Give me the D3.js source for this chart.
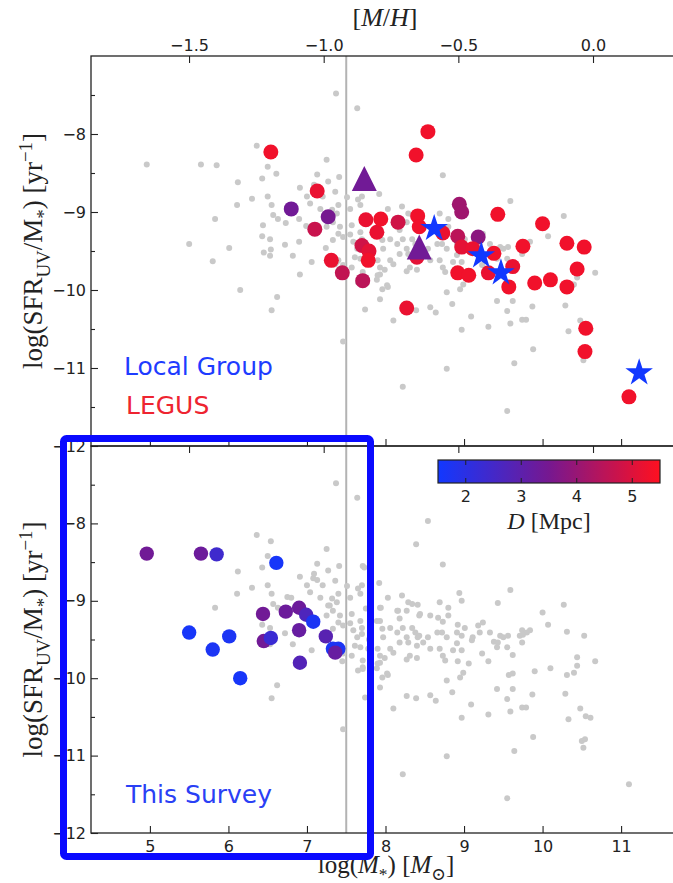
<!DOCTYPE html>
<html>
<head>
<meta charset="utf-8">
<script src="https://cdn.jsdelivr.net/npm/d3@7"></script>
<style>
  body { margin: 0; background: #fff; }
  svg { display: block; }
</style>
</head>
<body>
<svg id="chart" width="673" height="883"></svg>
<script>
// ---- data: [log M*, log sSFR_UV] (and distance D in Mpc where coloured) ----

// comparison galaxies shown in grey in both panels
const cloud = [
  [7.37,-7.48],[7.64,-7.67],[6.36,-8.15],[7.25,-8.33],[6.50,-8.42],[8.73,-8.53],
  [6.12,-8.62],[6.11,-8.91],[5.83,-9.09],[6.30,-8.83],[6.43,-8.57],[6.50,-8.80],
  [6.75,-8.95],[6.57,-9.04],[6.63,-9.09],[6.53,-9.35],[6.72,-9.42],[6.82,-9.56],
  [6.62,-10.09],[6.55,-10.26],[6.43,-9.31],[6.53,-9.56],[6.55,-8.91],[6.91,-8.69],
  [7.51,-8.81],
  [7.13,-8.52],[7.41,-8.55],[7.71,-8.55],[7.09,-8.65],[7.27,-8.61],[7.36,-8.74],
  [7.08,-8.71],[7.20,-8.80],[7.00,-8.80],[7.04,-8.89],[7.17,-8.96],[7.32,-8.97],
  [7.40,-8.91],[7.38,-9.02],[7.29,-9.06],[7.33,-9.13],[7.25,-9.19],[7.42,-9.19],
  [7.40,-9.28],[7.46,-9.32],[7.33,-9.36],[7.57,-9.17],[7.55,-9.29],[7.59,-9.38],
  [7.64,-9.47],[7.68,-9.26],[7.70,-9.35],[7.65,-8.84],[7.68,-8.91],[7.70,-8.80],
  [7.55,-8.96],[7.46,-9.68],[7.38,-9.64],[7.06,-9.64],[7.61,-9.58],[7.68,-9.60],
  [7.57,-9.71],[7.71,-9.86],[7.71,-9.77],[7.65,-9.90],
  [7.92,-8.77],[7.93,-9.09],[7.93,-9.26],[7.96,-9.36],[7.97,-9.47],[7.90,-9.62],
  [7.93,-9.71],[7.93,-9.80],[7.89,-9.87],[7.96,-9.99],[8.03,-9.96],[7.93,-10.12],
  [8.03,-8.96],[8.21,-8.93],[8.29,-9.02],[8.15,-9.13],[8.18,-9.23],[8.27,-9.13],
  [8.34,-9.04],[8.06,-9.35],[8.15,-9.41],[8.22,-9.35],[8.34,-9.35],[8.38,-9.41],
  [8.27,-9.47],[8.18,-9.54],[8.29,-9.54],[8.41,-9.47],[8.48,-9.54],[8.06,-9.62],
  [8.10,-9.67],[7.99,-9.74],[8.31,-9.71],[8.27,-9.76],[8.40,-9.74],
  [8.57,-9.19],[8.54,-9.47],[8.44,-9.17],[8.67,-9.22],[8.69,-9.02],[8.80,-9.09],
  [8.80,-9.19],[8.72,-9.41],[8.78,-9.47],[8.66,-9.41],[8.57,-9.62],[8.69,-9.62],
  [8.73,-9.71],[8.76,-9.77],[8.78,-10.03],
  [8.91,-9.41],[9.01,-9.35],[8.91,-9.55],[8.86,-9.64],[8.97,-9.64],[8.99,-9.93],
  [8.95,-9.99],[9.10,-9.51],[9.24,-9.28],[9.20,-9.41],[9.23,-9.68],[9.33,-9.41],
  [9.42,-9.60],[9.43,-9.54],[9.46,-9.45],[9.59,-8.86],[9.50,-9.47],[9.56,-9.45],
  [9.55,-9.60],[9.62,-9.94],[9.71,-9.45],[9.74,-9.38],[9.80,-9.41],[9.84,-9.38],
  [9.74,-9.54],[9.62,-10.14],[9.42,-10.14],[8.85,-10.18],
  [10.27,-9.05],[10.07,-9.31],[10.67,-9.78],[10.44,-9.84],[10.40,-9.93],[10.29,-10.20],
  [8.57,-10.22],[8.64,-10.29],[8.39,-10.26],[9.09,-10.34],[8.97,-10.51],[9.31,-10.47],
  [9.55,-10.27],[9.59,-10.43],[9.74,-10.38],[9.79,-10.38],[9.88,-10.76],[9.64,-10.94],
  [8.78,-11.01],[9.55,-11.55],[10.48,-10.39],[10.33,-10.53],[10.61,-10.51],[10.50,-10.81],
  [10.52,-10.90],[9.87,-10.21],[7.46,-10.66],[8.22,-11.24],[8.10,-10.39],[7.74,-10.25],
  [8.02,-9.94],[7.90,-9.81]
];

// this survey: [log M*, log sSFR, D]
const survey = [
  [4.96,-8.39,3.4],[5.65,-8.39,3.3],[5.85,-8.40,2.4],[6.61,-8.51,1.6],
  [5.50,-9.41,1.6],[6.01,-9.46,1.7],[5.80,-9.63,1.7],[6.15,-10.00,1.6],
  [6.44,-9.17,3.4],[6.45,-9.52,3.4],[6.54,-9.48,2.3],[6.73,-9.14,3.3],
  [6.90,-9.09,3.3],[6.99,-9.18,2.7],[7.08,-9.27,1.7],[6.90,-9.38,3.2],
  [6.91,-9.80,2.8],[7.24,-9.46,2.9],[7.33,-9.62,1.7],[7.40,-9.62,1.7],
  [7.36,-9.67,3.2]
];

// LEGUS galaxies drawn as circles: [log M*, log sSFR, D]
const legus = [
  [6.54,-8.23,5.3],[6.80,-8.96,3.4],[7.13,-8.73,5.2],[7.27,-9.06,3.5],[7.10,-9.22,4.7],
  [7.31,-9.62,5.2],[7.45,-9.78,4.6],[7.75,-9.10,5.2],[7.71,-9.88,4.5],[7.70,-9.43,4.8],
  [7.79,-9.50,5.1],[7.78,-9.62,5.3],[7.89,-9.26,5.2],[7.94,-9.09,5.3],[8.16,-9.13,4.8],
  [8.41,-9.05,5.3],[8.43,-9.19,5.3],[8.40,-9.58,5.1],[8.27,-10.23,5.2],[8.54,-7.97,5.3],
  [8.39,-8.27,5.3],[8.94,-8.90,4.1],[8.97,-9.00,4.1],[8.73,-9.27,5.2],[8.92,-9.31,4.5],
  [9.18,-9.32,3.8],[8.97,-9.45,5.1],[9.11,-9.47,5.2],[9.38,-9.53,5.3],[9.62,-9.70,5.2],
  [8.92,-9.78,5.3],[9.06,-9.81,5.3],[9.31,-9.78,5.2],[9.57,-9.96,5.3],[9.43,-9.03,5.3],
  [9.75,-9.44,5.3],[10.00,-9.15,5.3],[9.90,-9.91,5.3],[10.10,-9.87,5.3],[10.31,-9.40,5.3],
  [10.53,-9.45,5.3],[10.44,-9.73,5.3],[10.31,-9.96,5.3],[10.55,-10.49,5.3],[10.54,-10.79,5.3],
  [11.10,-11.37,5.3]
];

// LEGUS galaxies drawn as triangles
const legusTri = [[7.73,-8.57,3.4],[8.43,-9.45,3.4]];

// Local Group galaxies (stars): SMC, LMC, M33, M31
const localGroup = [[8.62,-9.21,0.06],[9.22,-9.56,0.05],[9.47,-9.78,0.84],[11.23,-11.06,0.78]];

// axis ticks
const massTicks = [5, 6, 7, 8, 9, 10, 11];
const ssfrTicks = [-8, -9, -10, -11, -12];
const ssfrMinor = [-7.5, -8.5, -9.5, -10.5, -11.5];
const metalTicks = [-1.5, -1.0, -0.5, 0.0];
const distTicks = [2, 3, 4, 5];
const massCut = 7.5;

// ---- layout ----
const svg = d3.select("#chart");
const sans = "'DejaVu Sans', sans-serif";
const serif = "'Liberation Serif', 'DejaVu Serif', serif";
const ink = "#222";

const x = d3.scaleLinear().domain([4.25, 11.75]).range([91, 680]);
const mh = d3.scaleLinear().domain([-1.864, 0.323]).range([91, 680]);
const panels = [
  { key: "top", y: d3.scaleLinear().domain([-12, -7]).range([446, 56]) },
  { key: "bot", y: d3.scaleLinear().domain([-12, -7]).range([833, 446]) }
];
// distance colour map: blue -> purple -> red
const color = d3.scaleLinear().domain([1.5, 3.5, 5.5])
  .range(["#1238ff", "#761890", "#ff1020"]).interpolate(d3.interpolateRgb).clamp(true);

const gray = "#c9c9c9";
const fmtY = d => "\u2212" + Math.abs(d);

function frame(p) {
  const [y0, y1] = [p.y.range()[1], p.y.range()[0]];
  svg.append("defs").append("clipPath").attr("id", "clip-" + p.key)
    .append("rect").attr("x", x.range()[0]).attr("y", y0)
    .attr("width", x.range()[1] - x.range()[0]).attr("height", y1 - y0);
  return svg.append("g").attr("clip-path", `url(#clip-${p.key})`);
}

const [pTop, pBot] = panels;
const gTop = frame(pTop);
const gBot = frame(pBot);

// reference mass line
[gTop, gBot].forEach((g, i) => {
  const p = panels[i];
  g.append("line")
    .attr("x1", x(massCut)).attr("x2", x(massCut))
    .attr("y1", p.y(-7)).attr("y2", p.y(-12))
    .attr("stroke", "#b3b3b3").attr("stroke-width", 2);
});

function dots(g, data, y, r, fill) {
  g.append("g").selectAll("circle").data(data).join("circle")
    .attr("cx", d => x(d[0])).attr("cy", d => y(d[1])).attr("r", r)
    .attr("fill", fill);
}

// top panel: grey = comparison sample + this survey
dots(gTop, cloud.concat(survey), pTop.y, 3, gray);
dots(gTop, legus, pTop.y, 7.5, d => color(d[2]));
gTop.append("g").selectAll("path").data(legusTri).join("path")
  .attr("transform", d => `translate(${x(d[0])},${pTop.y(d[1])})`)
  .attr("d", "M0,-12.5L12.5,12.5L-12.5,12.5Z")
  .attr("fill", d => color(d[2]));
gTop.append("g").selectAll("path").data(localGroup).join("path")
  .attr("transform", d => `translate(${x(d[0])},${pTop.y(d[1])})`)
  .attr("d", d3.symbol(d3.symbolStar, 235))
  .attr("fill", d => color(d[2]));

// bottom panel: grey = comparison sample + LEGUS
dots(gBot, cloud.concat(legus, legusTri), pBot.y, 3, gray);
dots(gBot, survey, pBot.y, 7.2, d => color(d[2]));

// ---- axes ----
function styleAxis(g) {
  g.select(".domain").remove();
  g.selectAll(".tick line").attr("stroke", ink).attr("stroke-width", 1.1);
  g.selectAll(".tick text").attr("fill", ink).style("font-family", sans).style("font-size", "16px");
}

panels.forEach(p => {
  svg.append("g").attr("transform", `translate(${x.range()[0]},0)`)
    .call(d3.axisLeft(p.y).tickValues(ssfrTicks).tickSize(-7).tickPadding(5).tickFormat(fmtY))
    .call(styleAxis);
  svg.append("g").attr("transform", `translate(${x.range()[0]},0)`)
    .call(d3.axisLeft(p.y).tickValues(ssfrMinor).tickSize(-4).tickFormat(""))
    .call(styleAxis);
  // mass ticks on each panel's lower edge
  svg.append("g").attr("transform", `translate(0,${p.y(-12)})`)
    .call(d3.axisBottom(x).tickValues(massTicks).tickSize(-7).tickPadding(8)
      .tickFormat(p.key === "bot" ? d3.format("d") : ""))
    .call(styleAxis);
  // metallicity ticks on each panel's upper edge
  svg.append("g").attr("transform", `translate(0,${p.y(-7)})`)
    .call(d3.axisTop(mh).tickValues(metalTicks).tickSize(-7).tickPadding(5)
      .tickFormat(p.key === "top" ? d3.format(".1f") : ""))
    .call(styleAxis);
});

// panel frames
panels.forEach(p => {
  svg.append("rect")
    .attr("x", x.range()[0]).attr("y", p.y(-7))
    .attr("width", x.range()[1] - x.range()[0]).attr("height", p.y(-12) - p.y(-7))
    .attr("fill", "none").attr("stroke", ink).attr("stroke-width", 1.3);
});

// ---- rich text helper (sub/superscripts, italics) ----
function rich(sel, parts, size) {
  let shift = 0;
  parts.forEach(pt => {
    const target = pt.sub ? size * 0.28 : pt.sup ? -size * 0.38 : 0;
    const ts = sel.append("tspan").text(pt.t)
      .attr("dy", target - shift)
      .style("font-size", (pt.sub || pt.sup ? size * 0.7 : size) + "px");
    if (pt.it) ts.style("font-style", "italic");
    shift = target;
  });
}

// axis titles
const topTitle = svg.append("text").attr("x", 385).attr("y", 26)
  .attr("text-anchor", "middle").style("font-family", serif).attr("fill", ink);
rich(topTitle, [{t: "["}, {t: "M", it: 1}, {t: "/"}, {t: "H", it: 1}, {t: "]"}], 26);

const xTitle = svg.append("text").attr("x", 386).attr("y", 873)
  .attr("text-anchor", "middle").style("font-family", serif).attr("fill", ink);
rich(xTitle, [{t: "log("}, {t: "M", it: 1}, {t: "*", sub: 1}, {t: ") ["}, {t: "M", it: 1},
  {t: "\u2299", sub: 1}, {t: "]"}], 25);

panels.forEach(p => {
  const cy = (p.y(-7) + p.y(-12)) / 2;
  const t = svg.append("text")
    .attr("transform", `translate(42,${cy}) rotate(-90)`)
    .attr("text-anchor", "middle").style("font-family", serif).attr("fill", ink);
  rich(t, [{t: "log(SFR"}, {t: "UV", sub: 1}, {t: "/M"}, {t: "*", sub: 1},
    {t: ") [yr"}, {t: "\u22121", sup: 1}, {t: "]"}], 27);
});

// ---- colour bar ----
const cb = d3.scaleLinear().domain([1.5, 5.5]).range([438, 660]);
const cbY = 460, cbH = 23;
const grad = svg.append("defs").append("linearGradient").attr("id", "cbar");
d3.range(0, 1.0001, 0.05).forEach(f => {
  grad.append("stop").attr("offset", f)
    .attr("stop-color", color(1.5 + 4 * f));
});
svg.append("rect").attr("x", cb(1.5)).attr("y", cbY)
  .attr("width", cb(5.5) - cb(1.5)).attr("height", cbH)
  .attr("fill", "url(#cbar)").attr("stroke", ink).attr("stroke-width", 1.2);
svg.append("g").selectAll("line.cbt").data(distTicks.flatMap(d => [[d, cbY, cbY + 5], [d, cbY + cbH, cbY + cbH - 5]]))
  .join("line").attr("x1", d => cb(d[0])).attr("x2", d => cb(d[0]))
  .attr("y1", d => d[1]).attr("y2", d => d[2]).attr("stroke", ink).attr("stroke-width", 1);
svg.append("g").selectAll("text").data(distTicks).join("text")
  .attr("x", d => cb(d)).attr("y", cbY + cbH + 19).attr("text-anchor", "middle")
  .style("font-family", sans).style("font-size", "16px").attr("fill", ink).text(d => d);
const cbTitle = svg.append("text").attr("x", cb(3.5)).attr("y", cbY + cbH + 46)
  .attr("text-anchor", "middle").style("font-family", serif).attr("fill", ink);
rich(cbTitle, [{t: "D", it: 1}, {t: " [Mpc]"}], 24);

// ---- sample labels ----
const labels = [
  { t: "Local Group", x: 124, y: 375, c: "#1e3cff" },
  { t: "LEGUS", x: 126, y: 414, c: "#ee2430" },
  { t: "This Survey", x: 126, y: 803, c: "#2a40f5" }
];
svg.append("g").selectAll("text").data(labels).join("text")
  .attr("x", d => d.x).attr("y", d => d.y).attr("fill", d => d.c)
  .style("font-family", sans).style("font-size", "25px").text(d => d.t);

// highlight box around the low-mass region of the lower panel
svg.append("rect").attr("x", 63.5).attr("y", 438.5).attr("width", 307).attr("height", 418)
  .attr("rx", 3).attr("fill", "none").attr("stroke", "#0a0aff").attr("stroke-width", 7);
</script>
</body>
</html>
